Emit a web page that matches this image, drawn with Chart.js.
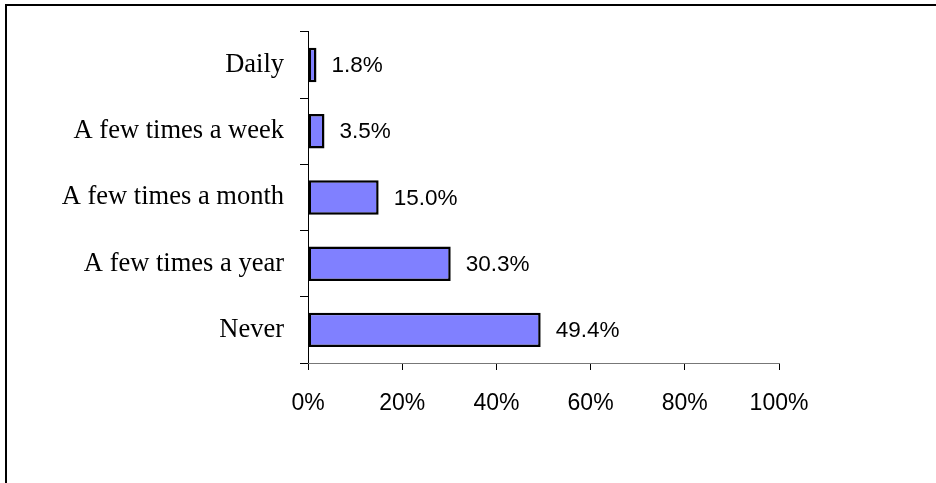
<!DOCTYPE html>
<html>
<head>
<meta charset="utf-8">
<script src="https://cdn.jsdelivr.net/npm/chart.js@4/dist/chart.umd.min.js"></script>
<style>
  html, body { margin: 0; padding: 0; background: #fff; }
  #wrap { position: relative; width: 936px; height: 483px; overflow: hidden; }
  #frame { position: absolute; left: 5px; top: 4px; width: 940px; height: 477px;
           border-top: 2px solid #000; border-left: 2px solid #000; border-bottom: 1px solid #d9d9d9; box-sizing: content-box; }
  canvas { position: absolute; left: 0; top: 0; }
</style>
</head>
<body>
<div id="wrap">
  <div id="frame"></div>
  <canvas id="c" width="936" height="483"></canvas>
</div>
<script>
const categories = ["Daily", "A few times a week", "A few times a month", "A few times a year", "Never"];
const values = [1.8, 3.5, 15.0, 30.3, 49.4];
const xTicks = [0, 20, 40, 60, 80, 100];

const dataLabels = {
  id: 'dataLabels',
  afterDatasetsDraw(chart) {
    const ctx = chart.ctx;
    const meta = chart.getDatasetMeta(0);
    ctx.save();
    ctx.font = '22.5px "Liberation Sans", Arial, sans-serif';
    ctx.fillStyle = '#000';
    ctx.textAlign = 'left';
    ctx.textBaseline = 'middle';
    meta.data.forEach((bar, i) => {
      ctx.fillText(values[i].toFixed(1) + '%', bar.x + 15, bar.y + 1);
    });
    ctx.restore();
  }
};

new Chart(document.getElementById('c'), {
  type: 'bar',
  data: {
    labels: categories,
    datasets: [{
      data: values,
      backgroundColor: '#8080FF',
      borderColor: '#000',
      borderWidth: 2.5,
      borderSkipped: false,
      barPercentage: 0.52,
      categoryPercentage: 1.0
    }]
  },
  options: {
    indexAxis: 'y',
    responsive: false,
    animation: false,
    layout: { padding: { left: 0, top: 20, right: 157, bottom: 0 } },
    plugins: { legend: { display: false }, tooltip: { enabled: false } },
    scales: {
      y: {
        afterFit(scale) { scale.width = 308; },
        grid: { drawOnChartArea: false, offset: true, tickLength: 8, color: '#000', lineWidth: 1 },
        border: { color: '#000', width: 1 },
        ticks: {
          padding: 16,
          color: '#000',
          font: { family: '"Liberation Serif", "Times New Roman", serif', size: 26.5 }
        }
      },
      x: {
        min: 0, max: 100,
        afterFit(scale) { scale.height = 120; },
        afterBuildTicks(scale) { scale.ticks = xTicks.map(v => ({ value: v })); },
        grid: { drawOnChartArea: false, tickLength: 7, color: '#000', lineWidth: 1 },
        border: { color: '#777', width: 1 },
        ticks: {
          padding: 20,
          color: '#000',
          maxRotation: 0,
          font: { family: '"Liberation Sans", Arial, sans-serif', size: 23 },
          callback: (v) => v + '%'
        }
      }
    }
  },
  plugins: [dataLabels]
});
</script>
</body>
</html>
